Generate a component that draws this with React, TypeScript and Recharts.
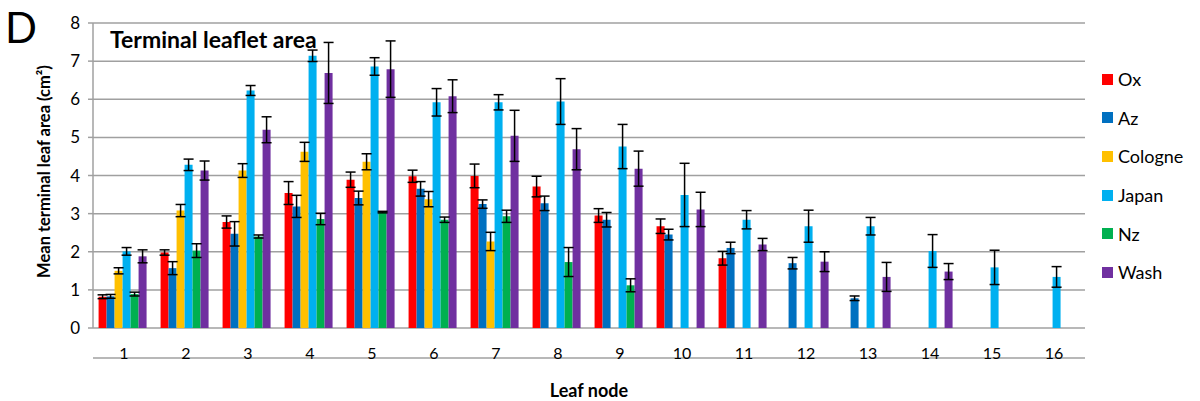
import { BarChart, Bar, XAxis, YAxis, CartesianGrid, ErrorBar } from "recharts";

const nodes = ["1", "2", "3", "4", "5", "6", "7", "8", "9", "10", "11", "12", "13", "14", "15", "16"];

const ox = [0.82, 1.98, 2.78, 3.54, 3.89, 3.98, 3.99, 3.71, 2.95, 2.67, 1.83, null, null, null, null, null];
const oxErr = [0.05, 0.07, 0.16, 0.3, 0.2, 0.16, 0.31, 0.27, 0.18, 0.19, 0.18, null, null, null, null, null];
const az = [0.83, 1.57, 2.47, 3.19, 3.41, 3.65, 3.25, 3.27, 2.84, 2.45, 2.1, 1.7, 0.78, null, null, null];
const azErr = [0.05, 0.17, 0.32, 0.29, 0.18, 0.19, 0.11, 0.19, 0.19, 0.14, 0.15, 0.15, 0.06, null, null, null];
const cologne = [1.5, 3.08, 4.13, 4.62, 4.36, 3.38, 2.27, null, null, null, null, null, null, null, null, null];
const cologneErr = [0.08, 0.16, 0.18, 0.25, 0.21, 0.2, 0.24, null, null, null, null, null, null, null, null, null];
const japan = [2.01, 4.28, 6.23, 7.14, 6.86, 5.92, 5.92, 5.94, 4.76, 3.49, 2.84, 2.67, 2.67, 2.02, 1.59, 1.34];
const japanErr = [0.1, 0.15, 0.13, 0.15, 0.23, 0.36, 0.2, 0.6, 0.58, 0.83, 0.24, 0.42, 0.23, 0.43, 0.45, 0.27];
const nz = [0.89, 2.03, 2.4, 2.86, 3.04, 2.84, 2.93, 1.73, 1.12, null, null, null, null, null, null, null];
const nzErr = [0.05, 0.18, 0.04, 0.15, 0.02, 0.07, 0.16, 0.38, 0.17, null, null, null, null, null, null, null];
const wash = [1.88, 4.13, 5.2, 6.69, 6.79, 6.08, 5.04, 4.69, 4.18, 3.11, 2.19, 1.74, 1.34, 1.48, null, null];
const washErr = [0.17, 0.25, 0.34, 0.8, 0.74, 0.43, 0.67, 0.54, 0.46, 0.45, 0.16, 0.26, 0.38, 0.21, null, null];

const yTicks = [0, 1, 2, 3, 4, 5, 6, 7, 8];
const edgeTicks = [0, 1, 2, 3, 4, 5, 6, 7, 8, 9, 10, 11, 12, 13, 14, 15, 16];

const SERIES = [
  { key: "ox", err: "oxErr", name: "Ox", color: "#ff0000" },
  { key: "az", err: "azErr", name: "Az", color: "#0070c0" },
  { key: "cologne", err: "cologneErr", name: "Cologne", color: "#ffc000" },
  { key: "japan", err: "japanErr", name: "Japan", color: "#00b0f0" },
  { key: "nz", err: "nzErr", name: "Nz", color: "#00b050" },
  { key: "wash", err: "washErr", name: "Wash", color: "#7030a0" },
];

const data = nodes.map((node, i) => ({
  node,
  ox: ox[i], oxErr: oxErr[i],
  az: az[i], azErr: azErr[i],
  cologne: cologne[i], cologneErr: cologneErr[i],
  japan: japan[i], japanErr: japanErr[i],
  nz: nz[i], nzErr: nzErr[i],
  wash: wash[i], washErr: washErr[i],
}));

const GRID = "#a0a0a0";
const FONT = "Lato, 'Open Sans', sans-serif";

// rotated y title, centred a bit above the plot middle like the source
function YLabel({ viewBox }: { viewBox?: { x: number; y: number; width: number; height: number } }) {
  if (!viewBox) return null;
  const cx = 44;
  const cy = viewBox.y + viewBox.height / 2 - 4;
  return (
    <text x={cx} y={cy} transform={`rotate(-90, ${cx}, ${cy})`} textAnchor="middle" dominantBaseline="central"
      style={{ fontSize: 16.5, fontWeight: 700, fill: "#000" }}>
      Mean terminal leaf area (cm²)
    </text>
  );
}

export default function App() {
  return (
    <div style={{ position: "absolute", left: 0, top: 0, width: 1200, height: 401, background: "#fff", fontFamily: FONT }}>
      <div style={{ position: "absolute", left: 5, top: 6, fontSize: 42, color: "#000", lineHeight: 1 }}>D</div>
      <div style={{ position: "absolute", left: 110, top: 28, fontSize: 23, fontWeight: 700, color: "#000", lineHeight: 1, zIndex: 2 }}>
        Terminal leaflet area
      </div>
      <BarChart width={1200} height={401} data={data} margin={{ top: 23, right: 115, bottom: 35, left: 0 }}
        barCategoryGap="9%" barGap={0}>
        <CartesianGrid vertical={false} stroke={GRID} strokeWidth={1.5} />
        <XAxis xAxisId="edge" type="number" domain={[0, 16]} ticks={edgeTicks} tick={false} height={8}
          tickSize={6} tickLine={{ stroke: GRID, strokeWidth: 1.5 }} axisLine={{ stroke: GRID, strokeWidth: 1.5 }} />
        <XAxis dataKey="node" height={30} interval={0} axisLine={false} tickLine={false} tickMargin={14}
          tick={{ fontSize: 16, fill: "#000" }}
          label={{ value: "Leaf node", position: "bottom", offset: 26, style: { fontSize: 18, fontWeight: 700, fill: "#000" } }} />
        <YAxis width={93} domain={[0, 8]} ticks={yTicks} interval={0} tickSize={5} tickMargin={8}
          tick={{ fontSize: 17, fill: "#000" }} tickLine={{ stroke: GRID, strokeWidth: 1.5 }}
          axisLine={{ stroke: GRID, strokeWidth: 1.5 }} label={<YLabel />} />
        {SERIES.map((s) => (
          <Bar key={s.key} dataKey={s.key} name={s.name} fill={s.color} isAnimationActive={false}>
            <ErrorBar dataKey={s.err} width={5} stroke="#000" strokeWidth={1.5} isAnimationActive={false} />
          </Bar>
        ))}
      </BarChart>
      <div style={{ position: "absolute", left: 1102, top: 60 }}>
        {SERIES.map((s) => (
          <div key={s.key} style={{ display: "flex", alignItems: "center", height: 38.6, fontSize: 18, color: "#000" }}>
            <div style={{ width: 11, height: 11, background: s.color, marginRight: 5 }} />
            {s.name}
          </div>
        ))}
      </div>
    </div>
  );
}
